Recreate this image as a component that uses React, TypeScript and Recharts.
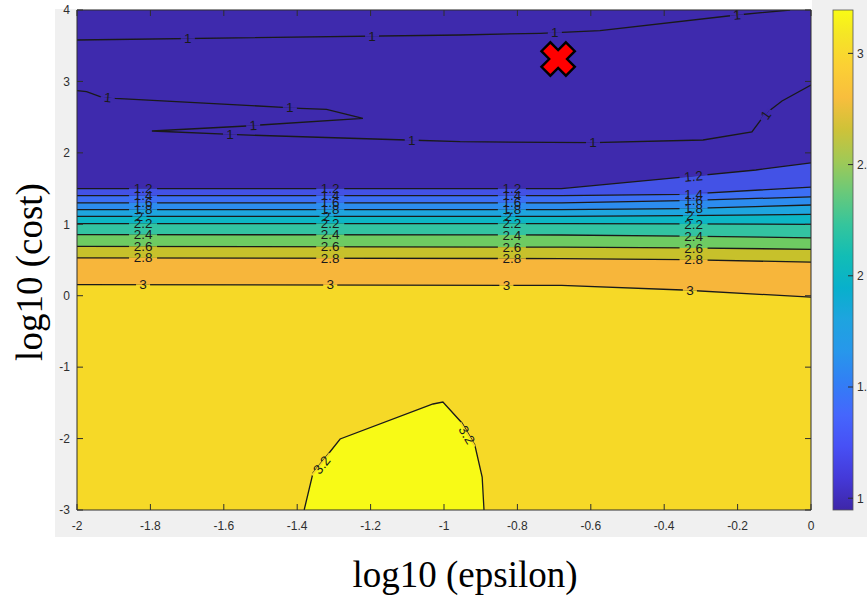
import React from 'react';
import { ComposedChart, Area, Line, Scatter, XAxis, YAxis } from 'recharts';

// ---------- axis ticks ----------
const xTicks = [-2, -1.8, -1.6, -1.4, -1.2, -1, -0.8, -0.6, -0.4, -0.2, 0];
const yTicks = [-3, -2, -1, 0, 1, 2, 3, 4];
const colorbarTicks = [1, 1.5, 2, 2.5, 3];
const colorbarRange = [0.947, 3.195];

// ---------- contour levels ----------
const levels = [1.2, 1.4, 1.6, 1.8, 2, 2.2, 2.4, 2.6, 2.8, 3];

// contour lines (x = log10 epsilon, y = log10 cost)
const topEdge = [{ x: -2, y: 4 }, { x: 0, y: 4 }];
const c12 = [{ x: -2, y: 1.5 }, { x: -0.68, y: 1.5 }, { x: -0.35, y: 1.66 }, { x: -0.15, y: 1.76 }, { x: 0, y: 1.86 }];
const c14 = [{ x: -2, y: 1.4 }, { x: -0.68, y: 1.4 }, { x: -0.35, y: 1.42 }, { x: 0, y: 1.52 }];
const c16 = [{ x: -2, y: 1.3 }, { x: -0.68, y: 1.3 }, { x: -0.35, y: 1.33 }, { x: 0, y: 1.385 }];
const c18 = [{ x: -2, y: 1.205 }, { x: -0.68, y: 1.205 }, { x: -0.35, y: 1.22 }, { x: 0, y: 1.27 }];
const c20 = [{ x: -2, y: 1.11 }, { x: -0.68, y: 1.11 }, { x: -0.35, y: 1.12 }, { x: 0, y: 1.14 }];
const c22 = [{ x: -2, y: 1.01 }, { x: -0.68, y: 1.01 }, { x: -0.35, y: 1.005 }, { x: 0, y: 1.0 }];
const c24 = [{ x: -2, y: 0.855 }, { x: -0.68, y: 0.85 }, { x: -0.35, y: 0.835 }, { x: 0, y: 0.81 }];
const c26 = [{ x: -2, y: 0.69 }, { x: -0.68, y: 0.68 }, { x: -0.35, y: 0.67 }, { x: 0, y: 0.65 }];
const c28 = [{ x: -2, y: 0.53 }, { x: -0.68, y: 0.52 }, { x: -0.35, y: 0.505 }, { x: 0, y: 0.47 }];
const c30 = [{ x: -2, y: 0.155 }, { x: -0.68, y: 0.145 }, { x: -0.35, y: 0.08 }, { x: 0, y: -0.02 }];
const island32 = [
  { x: -1.381, y: -3 }, { x: -1.357, y: -2.482 }, { x: -1.311, y: -2.188 }, { x: -1.283, y: -2.006 },
  { x: -1.03, y: -1.516 }, { x: -1.003, y: -1.488 }, { x: -0.951, y: -1.782 }, { x: -0.916, y: -2.09 },
  { x: -0.896, y: -2.538 }, { x: -0.891, y: -3 },
];
const contour1a = [
  { x: -2, y: 3.58 }, { x: -0.956, y: 3.65 }, { x: -0.738, y: 3.674 }, { x: -0.575, y: 3.71 },
  { x: -0.202, y: 3.93 }, { x: -0.057, y: 4.0 },
];
const contour1b = [
  { x: -2, y: 2.87 }, { x: -1.974, y: 2.856 }, { x: -1.937, y: 2.786 }, { x: -1.896, y: 2.764 },
  { x: -1.439, y: 2.638 }, { x: -1.392, y: 2.624 }, { x: -1.32, y: 2.61 }, { x: -1.221, y: 2.484 },
  { x: -1.501, y: 2.39 }, { x: -1.538, y: 2.376 }, { x: -1.796, y: 2.306 }, { x: -1.565, y: 2.254 },
  { x: -1.102, y: 2.18 }, { x: -0.956, y: 2.156 }, { x: -0.594, y: 2.142 }, { x: -0.294, y: 2.18 },
  { x: -0.161, y: 2.292 }, { x: -0.125, y: 2.544 }, { x: -0.079, y: 2.726 }, { x: 0, y: 2.95 },
];

// contour labels
const labels12 = [{ x: -1.82, y: 1.5 }, { x: -1.31, y: 1.5 }, { x: -0.815, y: 1.5 }, { x: -0.32, y: 1.67, a: -5 }];
const labels14 = [{ x: -1.82, y: 1.4 }, { x: -1.31, y: 1.4 }, { x: -0.815, y: 1.4 }, { x: -0.32, y: 1.42 }];
const labels16 = [{ x: -1.82, y: 1.3 }, { x: -1.31, y: 1.3 }, { x: -0.815, y: 1.3 }, { x: -0.32, y: 1.333 }];
const labels18 = [{ x: -1.82, y: 1.205 }, { x: -1.31, y: 1.205 }, { x: -0.815, y: 1.205 }, { x: -0.32, y: 1.222 }];
const labels20 = [{ x: -1.83, y: 1.11 }, { x: -1.32, y: 1.11 }, { x: -0.825, y: 1.11 }, { x: -0.33, y: 1.12 }];
const labels22 = [{ x: -1.82, y: 1.01 }, { x: -1.31, y: 1.01 }, { x: -0.815, y: 1.01 }, { x: -0.32, y: 1.005 }];
const labels24 = [{ x: -1.82, y: 0.855 }, { x: -1.31, y: 0.853 }, { x: -0.815, y: 0.85 }, { x: -0.32, y: 0.833 }];
const labels26 = [{ x: -1.82, y: 0.69 }, { x: -1.31, y: 0.686 }, { x: -0.815, y: 0.68 }, { x: -0.32, y: 0.668 }];
const labels28 = [{ x: -1.82, y: 0.53 }, { x: -1.31, y: 0.526 }, { x: -0.815, y: 0.52 }, { x: -0.32, y: 0.502 }];
const labels30 = [{ x: -1.82, y: 0.155 }, { x: -1.31, y: 0.152 }, { x: -0.83, y: 0.147 }, { x: -0.33, y: 0.075 }];
const labels1 = [
  { x: -1.698, y: 3.6 }, { x: -1.196, y: 3.625 }, { x: -0.698, y: 3.68 }, { x: -0.202, y: 3.93, a: -7 },
  { x: -1.916, y: 2.775, a: 6 }, { x: -1.42, y: 2.632 }, { x: -1.52, y: 2.383, a: -3 }, { x: -1.583, y: 2.26 },
  { x: -1.088, y: 2.178 }, { x: -0.594, y: 2.142 }, { x: -0.123, y: 2.53, a: -55 },
];
const labels32 = [{ x: -1.333, y: -2.37, a: -51 }, { x: -0.938, y: -1.95, a: 59 }];

// red marker
const marker = [{ x: -0.689, y: 3.314 }];

// ---------- styles ----------
const bandColors = [
  '#3e2aad', '#4352e6', '#3c6ff5', '#2c8cef', '#1ea5df', '#0cb6c5',
  '#33c3a1', '#6ecb62', '#c7c12b', '#f7b63b', '#f6d927',
];
const islandColor = '#f8fa16';
const lineColor = '#1a1a1a';
const AX = '#2e2e2e';
const FONT = '"Liberation Sans", Arial, Helvetica, sans-serif';
const SERIF = '"Liberation Serif", "Times New Roman", serif';

const levelLines = [c12, c14, c16, c18, c20, c22, c24, c26, c28, c30];
const levelLabels = [labels12, labels14, labels16, labels18, labels20, labels22, labels24, labels26, labels28, labels30];

const labelPoints = [
  ...levelLabels.flatMap((arr, i) =>
    arr.map((p: any) => ({ ...p, text: String(levels[i]), above: bandColors[i], below: bandColors[i + 1] }))
  ),
  ...labels1.map((p: any) => ({ ...p, text: '1', above: bandColors[0], below: bandColors[0] })),
  ...labels32.map((p: any) => ({ ...p, text: '3.2', above: bandColors[10], below: islandColor })),
];

const parula = [
  [0, '#3e26a8'], [0.063, '#4439d8'], [0.127, '#4750f5'], [0.19, '#4566fd'], [0.254, '#327ef5'],
  [0.317, '#2797eb'], [0.381, '#1ea4df'], [0.444, '#08b0cc'], [0.508, '#12bdb5'], [0.571, '#35c59c'],
  [0.635, '#69c97a'], [0.698, '#a0c956'], [0.762, '#cfc238'], [0.825, '#f8be3d'], [0.889, '#fbd034'],
  [0.952, '#f5e625'], [1, '#f9fb15'],
];

// ---------- shapes ----------
function EraseShape(props: any) {
  const { cx, cy, payload } = props;
  if (cx == null || cy == null) return null;
  const a = payload.a || 0;
  const w = payload.text.length * 7 + 7;
  return (
    <g transform={`rotate(${a} ${cx} ${cy})`}>
      <rect x={cx - w / 2} y={cy - 2} width={w} height={2} fill={payload.above} />
      <rect x={cx - w / 2} y={cy} width={w} height={2} fill={payload.below} />
    </g>
  );
}

function TextShape(props: any) {
  const { cx, cy, payload } = props;
  if (cx == null || cy == null) return null;
  const a = payload.a || 0;
  return (
    <text
      x={cx}
      y={cy + 4.6}
      transform={`rotate(${a} ${cx} ${cy})`}
      textAnchor="middle"
      fontSize={13.5}
      fontFamily={FONT}
      fill="#1a1a1a"
    >
      {payload.text}
    </text>
  );
}

function XMark(props: any) {
  const { cx, cy } = props;
  if (cx == null || cy == null) return null;
  const a = 6.3, L = 17.3;
  const pts = [
    [-a, -L], [a, -L], [a, -a], [L, -a], [L, a], [a, a], [a, L], [-a, L], [-a, a], [-L, a], [-L, -a], [-a, -a],
  ];
  return (
    <polygon
      points={pts.map(([x, y]) => `${cx + x},${cy + y}`).join(' ')}
      transform={`rotate(45 ${cx} ${cy})`}
      fill="#ff0000"
      stroke="#000"
      strokeWidth={2.4}
      strokeLinejoin="miter"
    />
  );
}

function BottomTick(props: any) {
  const { x, y, payload } = props;
  return (
    <g>
      <line x1={x} x2={x} y1={y} y2={y - 6} stroke={AX} strokeWidth={1} />
      <text x={x} y={y + 20} textAnchor="middle" fontSize={12} fontFamily={FONT} fill={AX}>
        {payload.value}
      </text>
    </g>
  );
}
function TopTick(props: any) {
  const { x, y } = props;
  return <line x1={x} x2={x} y1={y} y2={y + 6} stroke={AX} strokeWidth={1} />;
}
function LeftTick(props: any) {
  const { x, y, payload } = props;
  return (
    <g>
      <line x1={x} x2={x + 6} y1={y} y2={y} stroke={AX} strokeWidth={1} />
      <text x={x - 7} y={y + 4.3} textAnchor="end" fontSize={12} fontFamily={FONT} fill={AX}>
        {payload.value}
      </text>
    </g>
  );
}
function RightTick(props: any) {
  const { x, y } = props;
  return <line x1={x} x2={x - 6} y1={y} y2={y} stroke={AX} strokeWidth={1} />;
}

const cbTop = 10, cbBottom = 510, cbX = 833, cbW = 20;
const cbY = (v: number) => cbBottom - ((v - colorbarRange[0]) / (colorbarRange[1] - colorbarRange[0])) * (cbBottom - cbTop);

export default function App() {
  const common = { xAxisId: 'b', yAxisId: 'l', isAnimationActive: false } as any;
  return (
    <div style={{ position: 'absolute', left: 0, top: 0, width: 867, height: 598, overflow: 'hidden', background: '#fff' }}>
      <div style={{ position: 'absolute', left: 55, top: 0, width: 812, height: 537, background: '#f0f0f0' }} />
      <div style={{ position: 'absolute', left: 55, top: 0, width: 757, height: 9, background: '#ffffff' }} />
      <div style={{ position: 'absolute', left: 0, top: 0 }}>
        <ComposedChart width={867} height={598} margin={{ top: 5, right: 51, bottom: 58, left: 47 }}>
          <Area {...common} data={topEdge} dataKey="y" type="linear" baseValue={-3} stroke="none"
            fill={bandColors[0]} fillOpacity={1} dot={false} activeDot={false} />
          {levelLines.map((d, i) => (
            <Area key={`lvl${i}`} {...common} data={d} dataKey="y" type="linear" baseValue={-3}
              stroke={lineColor} strokeWidth={1.3} fill={bandColors[i + 1]} fillOpacity={1} dot={false} activeDot={false} />
          ))}
          <Area {...common} data={island32} dataKey="y" type="linear" baseValue={-3}
            stroke={lineColor} strokeWidth={1.3} fill={islandColor} fillOpacity={1} dot={false} activeDot={false} />
          <Line {...common} data={contour1a} dataKey="y" type="linear" stroke={lineColor} strokeWidth={1.3} dot={false} activeDot={false} />
          <Line {...common} data={contour1b} dataKey="y" type="linear" stroke={lineColor} strokeWidth={1.3} dot={false} activeDot={false} />
          <Scatter {...common} data={labelPoints} dataKey="y" shape={(p: any) => <EraseShape {...p} />} />
          <Scatter {...common} data={labelPoints} dataKey="y" shape={(p: any) => <TextShape {...p} />} />
          <Scatter {...common} data={marker} dataKey="y" shape={(p: any) => <XMark {...p} />} />
          <XAxis xAxisId="b" orientation="bottom" type="number" dataKey="x" domain={[-2, 0]} ticks={xTicks}
            allowDataOverflow interval={0} height={30} tickSize={0} tickMargin={0} tickLine={false}
            axisLine={{ stroke: AX }} tick={(p: any) => <BottomTick {...p} />} />
          <XAxis xAxisId="t" orientation="top" type="number" dataKey="x" domain={[-2, 0]} ticks={xTicks}
            allowDataOverflow interval={0} height={5} tickSize={0} tickMargin={0} tickLine={false}
            axisLine={{ stroke: AX }} tick={(p: any) => <TopTick {...p} />} />
          <YAxis yAxisId="l" orientation="left" type="number" dataKey="y" domain={[-3, 4]} ticks={yTicks}
            allowDataOverflow interval={0} width={30} tickSize={0} tickMargin={0} tickLine={false}
            axisLine={{ stroke: AX }} tick={(p: any) => <LeftTick {...p} />} />
          <YAxis yAxisId="r" orientation="right" type="number" dataKey="y" domain={[-3, 4]} ticks={yTicks}
            allowDataOverflow interval={0} width={5} tickSize={0} tickMargin={0} tickLine={false}
            axisLine={{ stroke: AX }} tick={(p: any) => <RightTick {...p} />} />
        </ComposedChart>
      </div>
      <svg width={867} height={598} style={{ position: 'absolute', left: 0, top: 0, pointerEvents: 'none' }}>
        <defs>
          <linearGradient id="parula" x1="0" y1="1" x2="0" y2="0">
            {parula.map(([o, c]) => (
              <stop key={String(o)} offset={o as number} stopColor={c as string} />
            ))}
          </linearGradient>
        </defs>
        <rect x={cbX} y={cbTop} width={cbW} height={cbBottom - cbTop} fill="url(#parula)" stroke="#555" strokeWidth={0.8} />
        {colorbarTicks.map((v) => (
          <g key={v}>
            <line x1={cbX + cbW - 5} x2={cbX + cbW} y1={cbY(v)} y2={cbY(v)} stroke={AX} strokeWidth={1} />
            <text x={cbX + cbW + 4} y={cbY(v) + 4.3} fontSize={12} fontFamily={FONT} fill={AX}>{v}</text>
          </g>
        ))}
        <text x={465} y={587} textAnchor="middle" fontSize={37} fontFamily={SERIF} fill="#000">log10 (epsilon)</text>
        <text x={42} y={272} textAnchor="middle" fontSize={37} fontFamily={SERIF} fill="#000"
          transform="rotate(-90 42 272)">log10 (cost)</text>
      </svg>
    </div>
  );
}
